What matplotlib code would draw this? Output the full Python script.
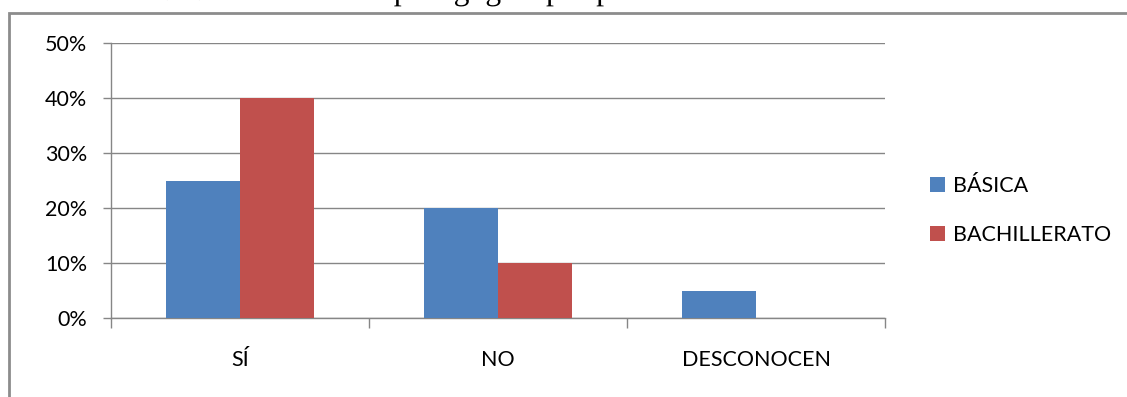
import matplotlib
matplotlib.use("Agg")
import matplotlib.pyplot as plt
import matplotlib.patheffects as pe
from matplotlib.patches import Rectangle
from matplotlib.ticker import FuncFormatter, MultipleLocator
from matplotlib.textpath import TextPath
from matplotlib.font_manager import FontProperties
import numpy as np

categories = ["SÍ", "NO", "DESCONOCEN"]
series_names = ["BÁSICA", "BACHILLERATO"]
basica = [25, 20, 5]
bachillerato = [40, 10, 0]
colors = ["#4F81BD", "#C0504D"]
title_head = "Gráfico No. 4: Actualización "
title_tail = "pedagógica por parte de las autoridades"

W, H = 1127, 397
DPI = 100
fig = plt.figure(figsize=(W / DPI, H / DPI), dpi=DPI)
fig.patch.set_facecolor("white")

font = ["Lato", "DejaVu Sans"]
fs = 15.5
grid_c = "#868686"


def text_width_px(s, size, family):
    tp = TextPath((0, 0), s, prop=FontProperties(family=family, size=size))
    return tp.get_extents().width * DPI / 72.0


# Caption above the chart frame (only its lower part falls on the page)
serif = "Liberation Serif"
tail_px = 499.0
title_fs = 12 * tail_px / text_width_px(title_tail, 12, serif)
head_px = text_width_px(title_head + "p", title_fs, serif) - text_width_px("p", title_fs, serif)
start_px = 393 - head_px
baseline_px = 6.5 - 0.217 * title_fs * DPI / 72.0
fig.text(start_px / W, 1 - baseline_px / H, title_head + title_tail, family=[serif],
         fontsize=title_fs, ha="left", va="baseline", color="black",
         path_effects=[pe.Normal()])

# Chart frame
fig.patches.append(Rectangle((9 / W, -0.1), 1.2, 1 - 13 / H + 0.1,
                             transform=fig.transFigure, fill=False,
                             edgecolor="#8c8c8c", linewidth=2, zorder=0))

x0, x1 = 111, 885
y0, y1 = 318, 43
ax = fig.add_axes([x0 / W, 1 - y0 / H, (x1 - x0) / W, (y0 - y1) / H])

x = np.arange(len(categories))
bw = 0.287
ax.bar(x - bw / 2, basica, bw, color=colors[0], label=series_names[0], zorder=3)
ax.bar(x + bw / 2, bachillerato, bw, color=colors[1], label=series_names[1], zorder=3)

ax.set_xlim(-0.5, len(categories) - 0.5)
ax.set_ylim(0, 50)
ax.yaxis.set_major_locator(MultipleLocator(10))
ax.yaxis.set_major_formatter(FuncFormatter(lambda v, p: f"{v:.0f}%"))
ax.grid(axis="y", color=grid_c, linewidth=1.0, zorder=0)
ax.set_axisbelow(True)

for s in ["top", "right"]:
    ax.spines[s].set_visible(False)
for s in ["left", "bottom"]:
    ax.spines[s].set_color(grid_c)
    ax.spines[s].set_linewidth(1.0)

ax.set_xticks(x)
ax.set_xticklabels(categories, fontsize=fs, family=font)
ax.tick_params(axis="x", length=0, pad=23)
ax.set_xticks(np.arange(len(categories) + 1) - 0.5, minor=True)
ax.tick_params(axis="x", which="minor", length=7, color=grid_c, width=1.0)
ax.tick_params(axis="y", length=6, color=grid_c, width=1.0, labelsize=fs, pad=11)
for lab in ax.get_yticklabels():
    lab.set_family(font)

leg = fig.legend(loc="center left", bbox_to_anchor=(930 / W, 1 - 210.5 / H),
                 frameon=False, prop={"family": font, "size": fs},
                 borderpad=0, borderaxespad=0,
                 handlelength=0.7, handleheight=0.7, handletextpad=0.35,
                 labelspacing=1.35)

fig.savefig("out.png", dpi=DPI, facecolor="white")
